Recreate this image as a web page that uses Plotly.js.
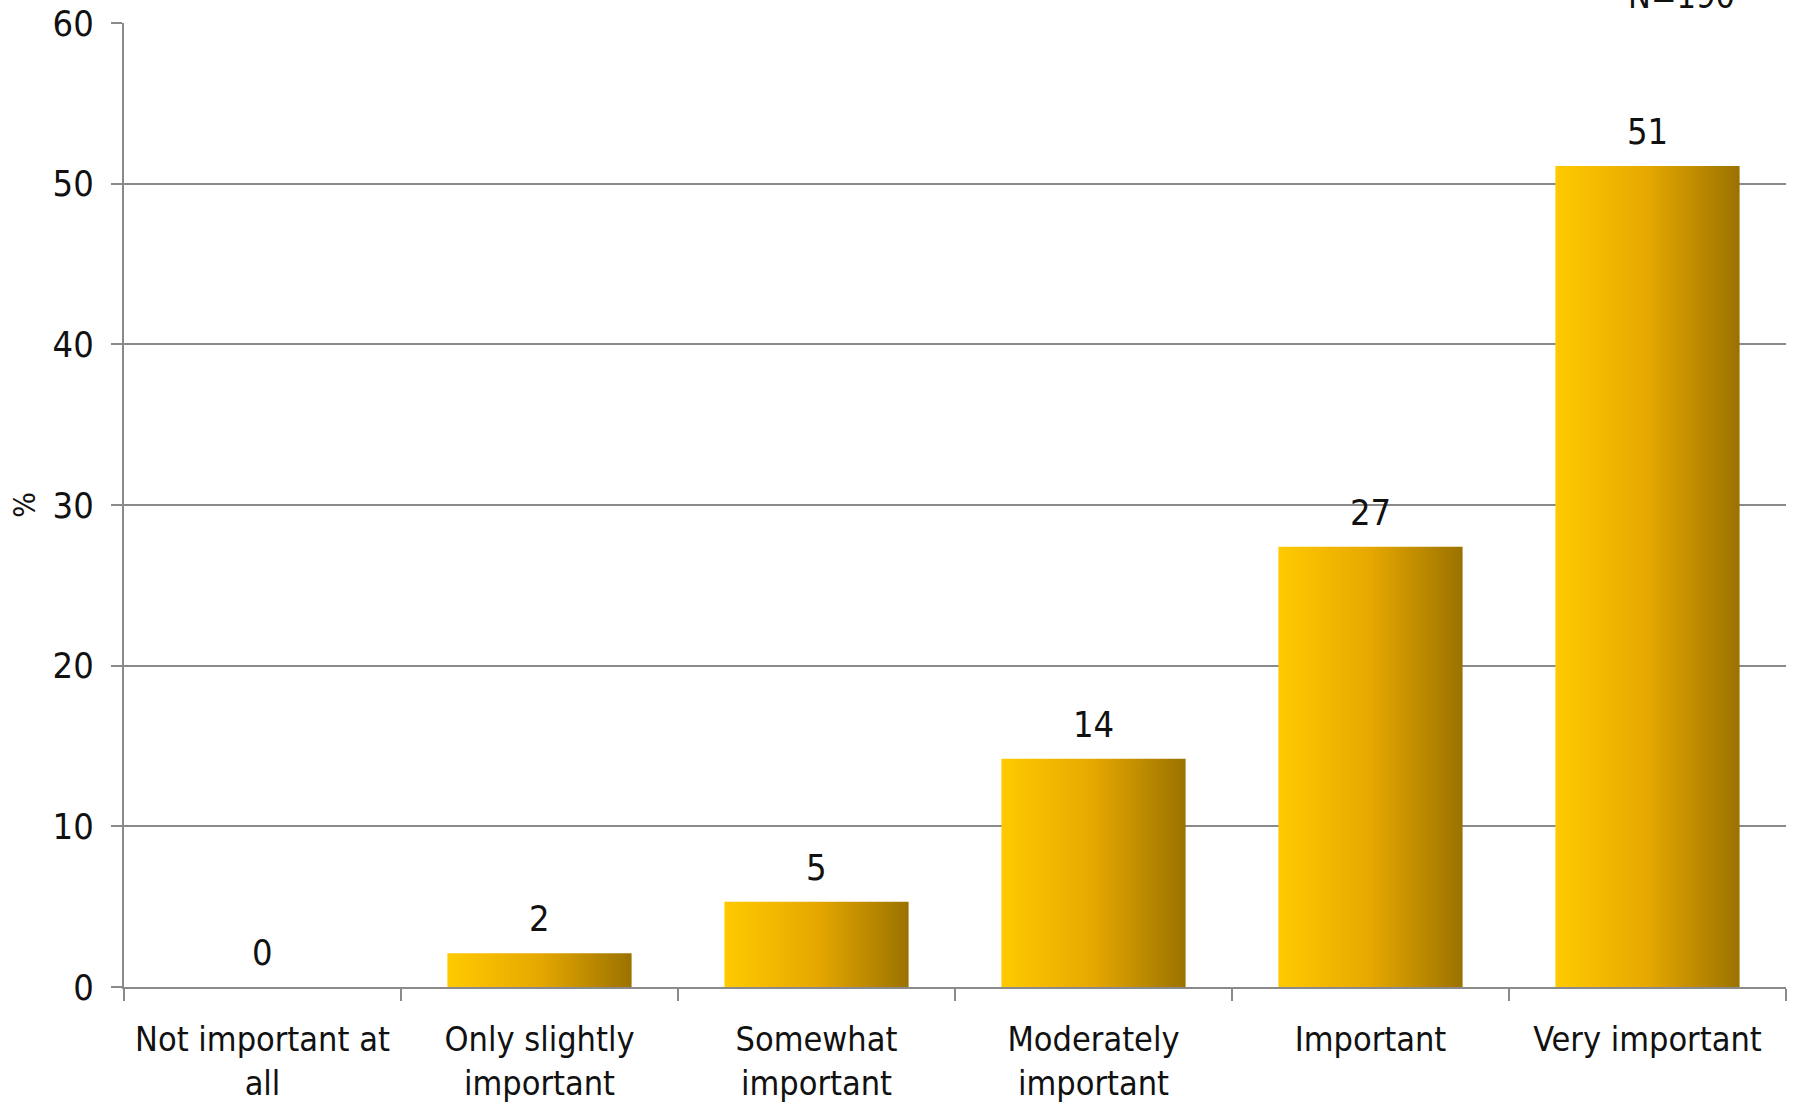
<!DOCTYPE html>
<html><head><meta charset="utf-8">
<script src="https://cdn.plot.ly/plotly-3.0.1.min.js"></script>
<style>html,body{margin:0;padding:0;background:#fff;} #chart{width:1799px;height:1111px;}
#chart svg text { font-stretch: condensed !important; }</style>
</head><body><div id="chart"></div>
<script>
const categories = ["Not important at all", "Only slightly important", "Somewhat important", "Moderately important", "Important", "Very important"];
const tickLabels = ["Not important at<br>all", "Only slightly<br>important", "Somewhat<br>important", "Moderately<br>important", "Important", "Very important"];
const percentages = [0, 2.1, 5.3, 14.2, 27.4, 51.1];
const valueLabels = ["0", "2", "5", "14", "27", "51"];
const yTickValues = [0, 10, 20, 30, 40, 50, 60];
const sampleNote = "N=190";

const FONT = "'DejaVu Sans Condensed', 'DejaVu Sans', sans-serif";
const GRID = "#8a8a8a";

const data = [{
  type: "bar",
  x: categories,
  y: percentages,
  marker: {color: "#E0A500", line: {width: 0}},
  hoverinfo: "skip"
}];

const annotations = categories.map((c, i) => ({
  x: c, y: percentages[i], xref: "x", yref: "y",
  text: valueLabels[i], showarrow: false,
  yanchor: "bottom", yshift: 12,
  font: {family: FONT, size: 36, color: "#111"}
}));
annotations.push({
  x: 0.9705, y: 1, xref: "paper", yref: "paper",
  xanchor: "right", yanchor: "bottom", yshift: 5,
  text: sampleNote, showarrow: false,
  font: {family: FONT, size: 34, color: "#111"}
});

const layout = {
  width: 1799, height: 1111,
  margin: {l: 124, r: 13, t: 23, b: 124, pad: 0},
  paper_bgcolor: "#fff", plot_bgcolor: "#fff",
  showlegend: false,
  bargap: 0.335,
  font: {family: FONT, size: 36, color: "#111"},
  xaxis: {
    type: "category",
    tickvals: categories, ticktext: tickLabels,
    tickangle: 0,
    tickson: "boundaries", ticks: "outside", ticklen: 12, tickwidth: 2, tickcolor: GRID,
    showline: true, linecolor: GRID, linewidth: 2,
    showgrid: false, zeroline: false,
    tickfont: {family: FONT, size: 34, color: "#111"},
    ticklabelstandoff: 21,
    automargin: false
  },
  yaxis: {
    range: [0, 60], tickvals: yTickValues,
    ticks: "outside", ticklen: 11, tickwidth: 2, tickcolor: GRID,
    showline: true, linecolor: GRID, linewidth: 2,
    showgrid: true, gridcolor: GRID, gridwidth: 2,
    zeroline: false,
    tickfont: {family: FONT, size: 36, color: "#111"},
    ticklabelstandoff: 10,
    title: {text: "%", font: {family: FONT, size: 30, color: "#111"}, standoff: 8},
    automargin: false
  },
  annotations: annotations
};

Plotly.newPlot("chart", data, layout, {staticPlot: true}).then(gd => {
  const ns = "http://www.w3.org/2000/svg";
  const svg = gd.querySelector("svg.main-svg");
  let defs = svg.querySelector("defs");
  if (!defs) { defs = document.createElementNS(ns, "defs"); svg.insertBefore(defs, svg.firstChild); }
  const lg = document.createElementNS(ns, "linearGradient");
  lg.setAttribute("id", "barGrad");
  lg.setAttribute("x1", "0"); lg.setAttribute("y1", "0");
  lg.setAttribute("x2", "1"); lg.setAttribute("y2", "0");
  [["0", "#FFCA00"], ["0.5", "#E6A800"], ["1", "#9B7200"]].forEach(([o, c]) => {
    const s = document.createElementNS(ns, "stop");
    s.setAttribute("offset", o); s.setAttribute("stop-color", c);
    lg.appendChild(s);
  });
  defs.appendChild(lg);
  gd.querySelectorAll(".bars .point path").forEach(p => { p.style.fill = "url(#barGrad)"; });
});
</script>
</body></html>
